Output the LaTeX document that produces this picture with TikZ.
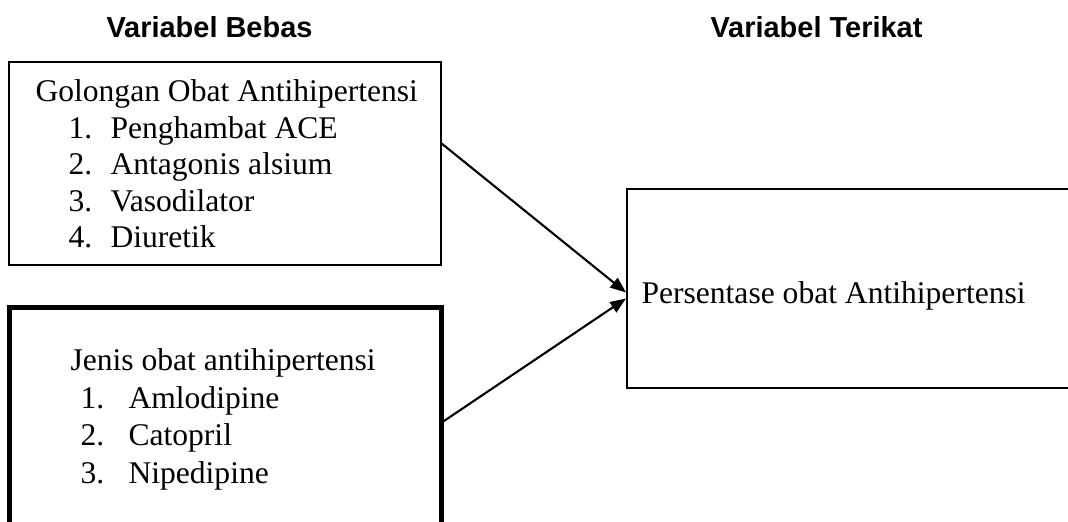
\documentclass[tikz,border=0pt]{standalone}
\usepackage{fontspec}
\setmainfont{Liberation Serif}
\newfontfamily\headfont{Liberation Sans}
\usetikzlibrary{arrows.meta,calc}
\tikzset{
  box/.style={draw=black, line width=0.8pt, inner sep=0pt, outer sep=0pt, fill=none},
  thickbox/.style={draw=black, line width=1.9pt, inner sep=0pt, outer sep=0pt},
  head/.style={anchor=base west, inner sep=0pt, font=\headfont\bfseries\fontsize{11}{13}\selectfont},
  txt/.style={anchor=base west, inner sep=0pt, font=\fontsize{12}{14}\selectfont},
  conn/.style={line width=0.8pt, -{Triangle[length=6pt,width=4.6pt]}}
}
\begin{document}
\begin{tikzpicture}[x=0.38pt,y=-0.38pt]
\clip (0,0) rectangle (1068,522);
\fill[white] (0,0) rectangle (1068,522);
% headings
\node[head] (h1) at (106,38) {Variabel Bebas};
\node[head] (h2) at (710,38) {Variabel Terikat};
% boxes
\node[box, minimum width=432*0.38pt, minimum height=203*0.38pt] (b1) at (225,163.5) {};
\node[thickbox, minimum width=432*0.38pt, minimum height=253*0.38pt] (b2) at (225,433.5) {};
\node[box, minimum width=473*0.38pt, minimum height=199*0.38pt] (b3) at (863.5,288.5) {};
% box 1 text
\node[txt] (t10) at (35,102) {Golongan Obat Antihipertensi};
\node[txt] (n11) at (68,138.5) {1.};
\node[txt] (t11) at (110,138.5) {Penghambat ACE};
\node[txt] (n12) at (68,175) {2.};
\node[txt] (t12) at (110,175) {Antagonis alsium};
\node[txt] (n13) at (68,211.5) {3.};
\node[txt] (t13) at (110,211.5) {Vasodilator};
\node[txt] (n14) at (68,248) {4.};
\node[txt] (t14) at (110,248) {Diuretik};
% box 2 text
\node[txt] (t20) at (70,370) {Jenis obat antihipertensi};
\node[txt] (n21) at (80,408) {1.};
\node[txt] (t21) at (128,408) {Amlodipine};
\node[txt] (n22) at (80,445.5) {2.};
\node[txt] (t22) at (128,445.5) {Catopril};
\node[txt] (n23) at (80,483) {3.};
\node[txt] (t23) at (128,483) {Nipedipine};
% box 3 text
\node[txt] (t30) at (641,303) {Persentase obat Antihipertensi};
% connectors
\coordinate (s1) at (b1.east |- 0,143);
\coordinate (s2) at (b2.east |- 0,423);
\coordinate (e1) at ($(b3.west)+(-1,4)$);
\coordinate (e2) at ($(b3.west)+(-1,10)$);
\draw[conn] (s1) -- (e1);
\draw[conn] (s2) -- (e2);
\end{tikzpicture}
\end{document}
